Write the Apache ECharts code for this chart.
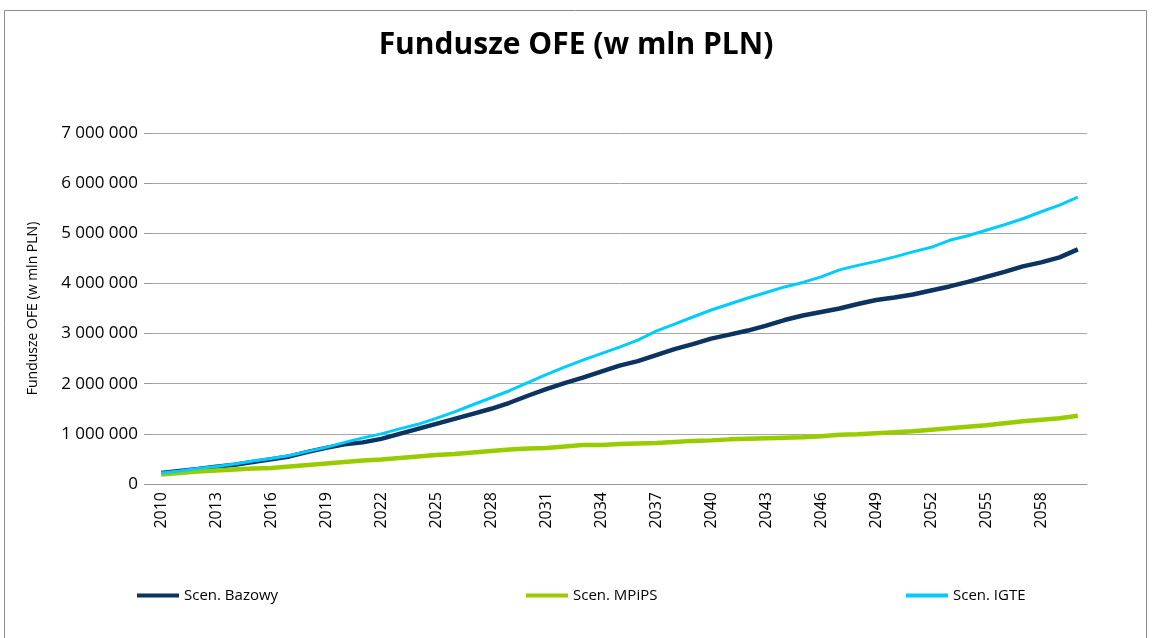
<!DOCTYPE html>
<html>
<head>
<meta charset="utf-8">
<script src="https://cdn.jsdelivr.net/npm/echarts@6/dist/echarts.min.js"></script>
<style>
  html, body { margin: 0; padding: 0; background: #fff; }
  #chart { width: 1152px; height: 638px; }
</style>
</head>
<body>
<div id="chart"></div>
<script>
// lata 2010-2060
const years = [];
for (let y = 2010; y <= 2060; y++) years.push(String(y));

// wartości w mln PLN
const bazowy = [
  220000, 260000, 300000, 345000, 385000, 440000, 495000, 550000, 640000, 720000,
  790000, 830000, 900000, 1000000, 1100000, 1200000, 1300000, 1400000, 1500000, 1620000,
  1760000, 1890000, 2010000, 2120000, 2240000, 2360000, 2450000, 2570000, 2690000, 2790000,
  2900000, 2980000, 3060000, 3160000, 3270000, 3360000, 3430000, 3500000, 3590000, 3670000,
  3720000, 3780000, 3860000, 3940000, 4030000, 4130000, 4230000, 4340000, 4420000, 4520000,
  4680000
];
const mpips = [
  190000, 220000, 250000, 270000, 290000, 310000, 320000, 350000, 380000, 410000,
  440000, 470000, 490000, 520000, 550000, 580000, 600000, 630000, 660000, 690000,
  710000, 720000, 750000, 780000, 780000, 800000, 810000, 820000, 840000, 860000,
  870000, 890000, 900000, 910000, 920000, 930000, 950000, 980000, 990000, 1010000,
  1030000, 1050000, 1080000, 1110000, 1140000, 1170000, 1210000, 1250000, 1280000, 1310000,
  1360000
];
const igte = [
  220000, 260000, 310000, 350000, 400000, 460000, 510000, 570000, 650000, 730000,
  830000, 920000, 1000000, 1100000, 1190000, 1310000, 1440000, 1580000, 1720000, 1860000,
  2020000, 2180000, 2330000, 2470000, 2600000, 2730000, 2870000, 3050000, 3190000, 3330000,
  3470000, 3590000, 3710000, 3820000, 3930000, 4020000, 4130000, 4270000, 4360000, 4440000,
  4530000, 4630000, 4720000, 4860000, 4950000, 5060000, 5170000, 5290000, 5430000, 5560000,
  5720000
];
const seriesNames = ['Scen. Bazowy', 'Scen. MPiPS', 'Scen. IGTE'];
const colors = ['#0b3461', '#99cc00', '#00ccff'];

const font = '"Open Sans", "Noto Sans", sans-serif';
const fmt = (v) => String(v).replace(/\B(?=(\d{3})+(?!\d))/g, ' ');

const chart = echarts.init(document.getElementById('chart'), null, { renderer: 'canvas' });

const legendBase = {
  top: 583,
  icon: 'rect',
  itemWidth: 42,
  itemHeight: 4,
  itemGap: 4,
  textStyle: { fontSize: 15, color: '#000', fontFamily: font },
};

chart.setOption({
  animation: false,
  backgroundColor: '#fff',
  color: colors,
  title: {
    text: 'Fundusze OFE (w mln PLN)',
    left: 'center',
    top: 25,
    textStyle: { fontSize: 30, fontWeight: 'bold', color: '#000', fontFamily: font },
  },
  graphic: [{
    type: 'rect',
    shape: { x: 4.5, y: 10.5, width: 1142, height: 640 },
    style: { fill: null, stroke: '#8c8c8c', lineWidth: 1 },
    silent: true,
  }],
  legend: [
    { ...legendBase, left: 132, data: [seriesNames[0]] },
    { ...legendBase, left: 521, data: [seriesNames[1]] },
    { ...legendBase, left: 901, data: [seriesNames[2]] },
  ],
  grid: { left: 152, right: 65, top: 133, bottom: 154 },
  xAxis: {
    type: 'category',
    data: years,
    boundaryGap: true,
    axisLine: { show: true, lineStyle: { color: '#999', width: 1 } },
    axisTick: { show: false },
    axisLabel: {
      interval: 2,
      rotate: 90,
      margin: 8,
      fontSize: 16,
      color: '#000',
      fontFamily: font,
    },
  },
  yAxis: {
    type: 'value',
    min: 0,
    max: 7000000,
    interval: 1000000,
    name: 'Fundusze OFE (w mln PLN)',
    nameLocation: 'middle',
    nameGap: 112,
    nameTextStyle: { fontSize: 14, color: '#000', fontFamily: font },
    axisLine: { show: true, lineStyle: { color: 'rgba(0,0,0,0)' } },
    axisTick: { show: true, length: 8, lineStyle: { color: '#999' } },
    axisLabel: { formatter: fmt, fontSize: 17, color: '#000', fontFamily: font, margin: 14 },
    splitLine: { lineStyle: { color: '#a6a6a6', width: 1 } },
  },
  series: [
    { name: seriesNames[0], type: 'line', data: bazowy, showSymbol: false, lineStyle: { width: 4.5 } },
    { name: seriesNames[1], type: 'line', data: mpips, showSymbol: false, lineStyle: { width: 4.5 } },
    { name: seriesNames[2], type: 'line', data: igte, showSymbol: false, lineStyle: { width: 3 } },
  ],
});
</script>
</body>
</html>
